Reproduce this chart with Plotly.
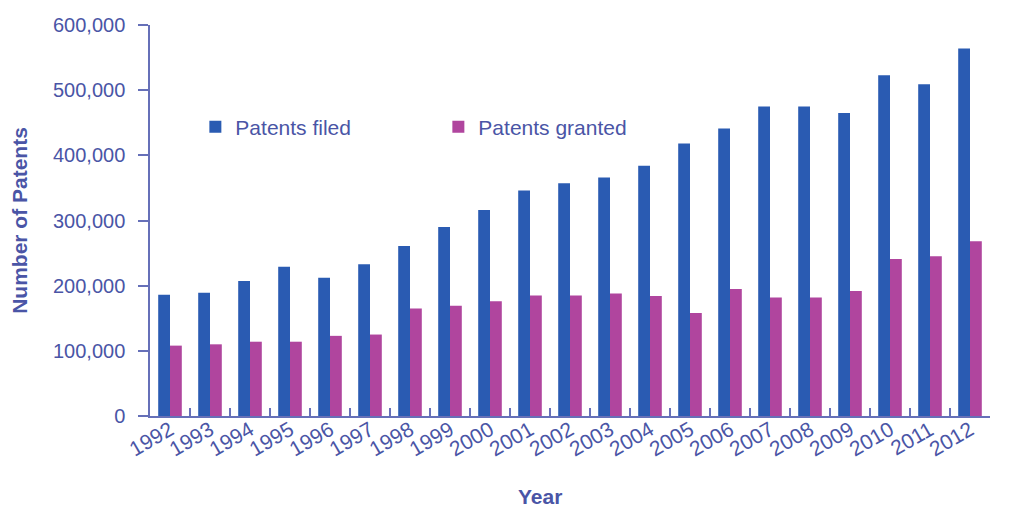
import plotly.graph_objects as go

years = [str(y) for y in range(1992, 2013)]
patents_filed = [186000, 189000, 207000, 229000, 212000, 233000, 261000, 290000,
                 316000, 346000, 357000, 366000, 384000, 418000, 441000, 475000,
                 475000, 465000, 523000, 509000, 564000]
patents_granted = [108000, 110000, 114000, 114000, 123000, 125000, 165000, 169000,
                   176000, 185000, 185000, 188000, 184000, 158000, 195000, 182000,
                   182000, 192000, 241000, 245000, 268000]
y_ticks = [0, 100000, 200000, 300000, 400000, 500000, 600000]
y_tick_labels = ["0", "100,000", "200,000", "300,000", "400,000", "500,000", "600,000"]

TEXT = "#4a55a6"
AXIS = "#6670b8"
BLUE = "#2a5bb2"
MAGENTA = "#b0459e"
FONT = "Liberation Sans, Arial, sans-serif"

fig = go.Figure()
fig.add_trace(go.Bar(x=years, y=patents_filed, name="Patents filed",
                     marker=dict(color=BLUE, line=dict(width=0))))
fig.add_trace(go.Bar(x=years, y=patents_granted, name="Patents granted",
                     marker=dict(color=MAGENTA, line=dict(width=0))))

fig.update_layout(
    width=1005, height=504,
    margin=dict(l=142, r=23, t=17, b=96),
    paper_bgcolor="white", plot_bgcolor="white",
    barmode="group", bargap=0.41, bargroupgap=0,
    font=dict(family=FONT, color=TEXT, size=20),
    showlegend=True,
    legend=dict(orientation="h", x=0.054, y=0.739, xanchor="left", yanchor="middle",
                font=dict(size=21, color=TEXT), entrywidth=198, entrywidthmode="pixels",
                bgcolor="rgba(0,0,0,0)", itemclick=False),
    xaxis=dict(
        type="category", tickangle=-30, tickson="boundaries", automargin=False,
        ticks="inside", ticklen=8, tickcolor=AXIS, tickwidth=1.5,
        ticklabelstandoff=-8,
        showline=True, linecolor=AXIS, linewidth=1.5, showgrid=False,
        tickfont=dict(size=21, color=TEXT),
        range=[-0.5, 20.5],
    ),
    yaxis=dict(
        range=[0, 600000], tickvals=y_ticks, ticktext=y_tick_labels, automargin=False,
        ticks="outside", ticklen=10, tickcolor=AXIS, tickwidth=1.5,
        ticklabelstandoff=9,
        showline=True, linecolor=AXIS, linewidth=1.5, showgrid=False, zeroline=False,
        tickfont=dict(size=20, color=TEXT),
        title=dict(text="<b>Number of Patents</b>", font=dict(size=21, color=TEXT), standoff=20),
    ),
    annotations=[dict(text="<b>Year</b>", xref="paper", yref="paper",
                      x=0.464, y=-0.207, xanchor="center", yanchor="middle",
                      showarrow=False, font=dict(size=21, color=TEXT, family=FONT))],
)

fig.write_html("out.html")
